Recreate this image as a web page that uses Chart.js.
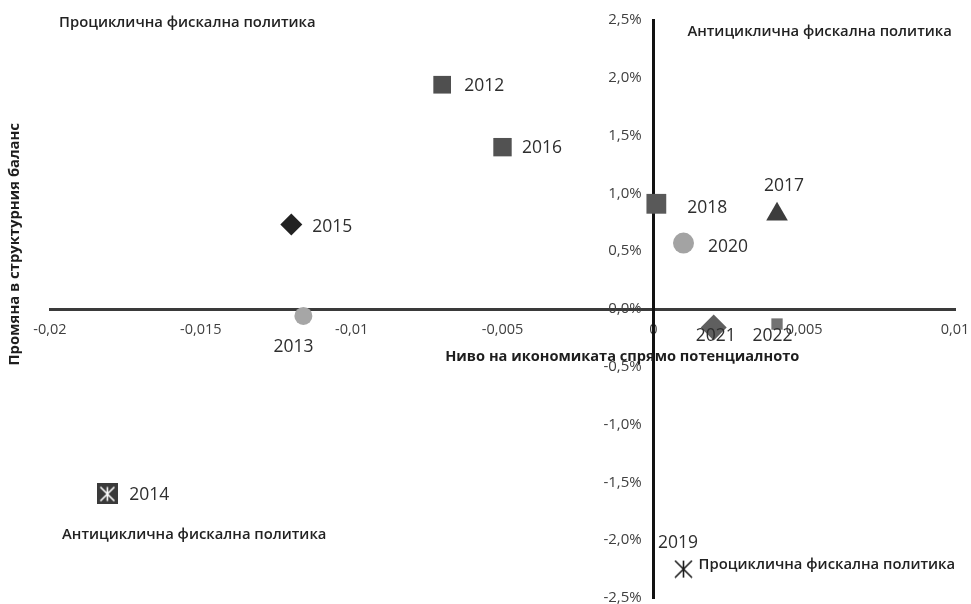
<!DOCTYPE html>
<html lang="bg">
<head>
<meta charset="utf-8">
<title>Фискална политика и цикъл</title>
<script src="https://cdn.jsdelivr.net/npm/chart.js@4.4.1/dist/chart.umd.min.js"></script>
<style>
  html, body { margin: 0; padding: 0; background: #ffffff; }
  #wrap { width: 971px; height: 604px; }
</style>
</head>
<body>
<div id="wrap"><canvas id="chart" width="971" height="604"></canvas></div>
<script>
// Години (етикети на точките)
const years = ['2012', '2013', '2014', '2015', '2016', '2017', '2018', '2019', '2020', '2021', '2022'];
// Ниво на икономиката спрямо потенциалното (разрив на БВП)
const outputGap = [-0.0070, -0.0116, -0.0181, -0.0120, -0.0050, 0.0041, 0.0001, 0.0010, 0.0010, 0.0020, 0.0041];
// Промяна в структурния баланс, %
const balanceChange = [1.94, -0.06, -1.60, 0.73, 1.40, 0.82, 0.91, -2.25, 0.57, -0.16, -0.13];
// Деления на осите
const xTicks = [-0.02, -0.015, -0.01, -0.005, 0, 0.005, 0.01];
const yTicks = [-2.5, -2.0, -1.5, -1.0, -0.5, 0.0, 0.5, 1.0, 1.5, 2.0, 2.5];

// Надписи на квадрантите: [текст, x, y] в единиците на осите
const quadrantLabels = [
  ['Проциклична фискална политика', -0.0197, 2.48],
  ['Антициклична фискална политика', 0.00113, 2.40],
  ['Антициклична фискална политика', -0.0196, -1.955],
  ['Проциклична фискална политика', 0.00150, -2.21]
];

// Маркер „звезда“ (вертикална черта и два диагонала)
function starMarker(size, stroke, fill) {
  const c = document.createElement('canvas');
  c.width = size; c.height = size;
  const g = c.getContext('2d');
  if (fill) { g.fillStyle = fill; g.fillRect(0, 0, size, size); }
  g.strokeStyle = stroke;
  g.lineWidth = 1.6;
  const m = size / 2, p = fill ? 3.5 : 1;
  g.beginPath();
  g.moveTo(m, p); g.lineTo(m, size - p);
  g.moveTo(p, p); g.lineTo(size - p, size - p);
  g.moveTo(size - p, p); g.lineTo(p, size - p);
  g.stroke();
  return c;
}

// Стил на всяка точка, по реда на годините
const pointStyles = ['rect', 'circle', starMarker(21, '#ffffff', '#3a3a3a'), 'rectRot', 'rect', 'triangle', 'rect', starMarker(19, '#1a1a1a', null), 'circle', 'rectRot', 'rect'];
const pointRadii = [12.5, 9, 11, 11, 13, 12.5, 14, 10, 10.5, 13, 8];
const pointColors = ['#4f4f4f', '#a6a6a6', '#3a3a3a', '#222222', '#525252', '#3d3d3d', '#595959', '#1a1a1a', '#a3a3a3', '#5f5f5f', '#727272'];
// Отместване на етикета спрямо точката: [dx, dy, подравняване]
const labelOffsets = [
  [22, 1, 'left'], [-10, 31, 'center'], [22, 1, 'left'], [21, 2, 'left'], [19.5, 1, 'left'],
  [7, -28, 'center'], [31, 4, 'left'], [-5.5, -26, 'center'], [24.5, 4, 'left'],
  [2, 9, 'center'], [-4.5, 12, 'center']
];

const FONT = '"Open Sans", "Noto Sans", "DejaVu Sans", sans-serif';

const fmtX = v => (Math.abs(v) < 1e-9 ? '0' : String(Number(v.toFixed(3))).replace('.', ','));
// Интервалите отделят етикета от вертикалната ос
const fmtY = v => v.toFixed(1).replace('.', ',') + '%   ';

// Осите се пресичат в нулата и не трябва да стесняват областта на графиката
const noScalePadding = s => { s.paddingLeft = s.paddingRight = s.paddingTop = s.paddingBottom = 0; };

const annotations = {
  id: 'annotations',
  afterDatasetsDraw(chart) {
    const ctx = chart.ctx;
    const xs = chart.scales.x, ys = chart.scales.y;
    const meta = chart.getDatasetMeta(0);
    ctx.save();
    ctx.textBaseline = 'middle';

    // Етикети на годините
    ctx.fillStyle = '#2e2e2e';
    ctx.font = '17.5px ' + FONT;
    meta.data.forEach((pt, i) => {
      const [dx, dy, align] = labelOffsets[i];
      ctx.textAlign = align;
      ctx.fillText(years[i], pt.x + dx, pt.y + dy);
    });

    // Надписи на квадрантите
    ctx.fillStyle = '#222222';
    ctx.font = '600 14.8px ' + FONT;
    ctx.textAlign = 'left';
    quadrantLabels.forEach(([t, x, y]) => ctx.fillText(t, xs.getPixelForValue(x), ys.getPixelForValue(y)));

    // Заглавие на хоризонталната ос
    ctx.font = 'bold 14.6px ' + FONT;
    ctx.fillStyle = '#1e1e1e';
    ctx.textAlign = 'center';
    ctx.fillText('Ниво на икономиката спрямо потенциалното', xs.getPixelForValue(-0.00103), ys.getPixelForValue(-0.415));

    // Заглавие на вертикалната ос
    ctx.font = 'bold 14.8px ' + FONT;
    ctx.translate(chart.chartArea.left - 35, ys.getPixelForValue(0.56));
    ctx.rotate(-Math.PI / 2);
    ctx.fillText('Промяна в структурния баланс', 0, 0);
    ctx.restore();
  }
};

new Chart(document.getElementById('chart'), {
  type: 'scatter',
  data: {
    datasets: [{
      label: 'Фискална позиция',
      data: years.map((y, i) => ({ x: outputGap[i], y: balanceChange[i] })),
      pointStyle: pointStyles,
      pointRadius: pointRadii,
      pointHoverRadius: pointRadii,
      pointBackgroundColor: pointColors,
      pointBorderColor: pointColors,
      pointBorderWidth: 0
    }]
  },
  options: {
    responsive: false,
    animation: false,
    layout: { autoPadding: false, padding: { left: 50, right: 16, top: 20, bottom: 6 } },
    plugins: { legend: { display: false }, tooltip: { enabled: false } },
    scales: {
      x: {
        type: 'linear',
        position: { y: 0 },
        min: -0.02, max: 0.01,
        afterBuildTicks: s => { s.ticks = xTicks.map(v => ({ value: v })); },
        afterFit: noScalePadding,
        grid: { display: false },
        border: { display: true, color: '#3a3a3a', width: 3 },
        ticks: { color: '#404040', font: { family: FONT, size: 14.5 }, padding: 4, maxRotation: 0, autoSkip: false, callback: v => fmtX(v) }
      },
      y: {
        type: 'linear',
        position: { x: 0 },
        min: -2.5, max: 2.5,
        afterBuildTicks: s => { s.ticks = yTicks.map(v => ({ value: v })); },
        afterFit: noScalePadding,
        grid: { display: false },
        border: { display: true, color: '#111111', width: 3 },
        ticks: { color: '#404040', font: { family: FONT, size: 15 }, autoSkip: false, callback: v => fmtY(v) }
      }
    }
  },
  plugins: [annotations]
});
</script>
</body>
</html>
